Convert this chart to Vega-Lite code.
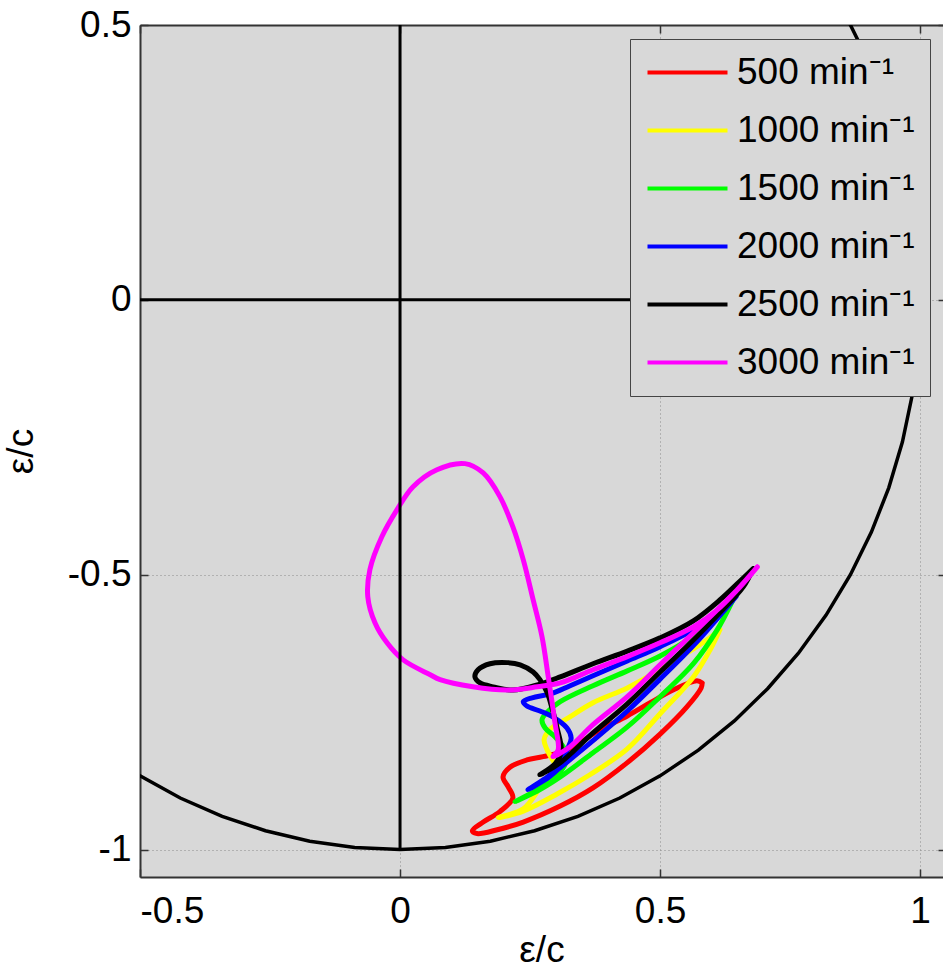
{
  "$schema": "https://vega.github.io/schema/vega-lite/v6.json",
  "width": 803,
  "height": 852,
  "autosize": {"type": "none"},
  "padding": {"left": 140, "top": 25, "right": 0, "bottom": 93},
  "background": "white",
  "config": {
    "font": "Liberation Sans",
    "view": {"fill": "#d8d8d8", "stroke": null},
    "axis": {
      "labelFont": "Liberation Sans",
      "labelFontSize": 37,
      "labelColor": "black",
      "titleFont": "Liberation Sans",
      "titleFontSize": 37,
      "titleFontWeight": "normal",
      "titleColor": "black",
      "domainColor": "#333",
      "domainWidth": 2,
      "tickColor": "#333",
      "tickWidth": 1.5,
      "tickSize": -8,
      "gridColor": "#8a8a8a",
      "gridDash": [1, 3],
      "gridWidth": 1
    }
  },
  "datasets": {
    "axes": [
      {"x1": -0.5, "x2": 1, "y1": 0, "y2": 0},
      {"x1": 0, "x2": 0, "y1": 0.5, "y2": -1}
    ],
    "circle": [
      {"a": 0, "x": 0.766, "y": 0.6428},
      {"a": 1, "x": 0.8192, "y": 0.5736},
      {"a": 2, "x": 0.866, "y": 0.5},
      {"a": 3, "x": 0.9063, "y": 0.4226},
      {"a": 4, "x": 0.9397, "y": 0.342},
      {"a": 5, "x": 0.9659, "y": 0.2588},
      {"a": 6, "x": 0.9848, "y": 0.1736},
      {"a": 7, "x": 0.9962, "y": 0.0872},
      {"a": 8, "x": 1, "y": 0},
      {"a": 9, "x": 0.9962, "y": -0.0872},
      {"a": 10, "x": 0.9848, "y": -0.1736},
      {"a": 11, "x": 0.9659, "y": -0.2588},
      {"a": 12, "x": 0.9397, "y": -0.342},
      {"a": 13, "x": 0.9063, "y": -0.4226},
      {"a": 14, "x": 0.866, "y": -0.5},
      {"a": 15, "x": 0.8192, "y": -0.5736},
      {"a": 16, "x": 0.766, "y": -0.6428},
      {"a": 17, "x": 0.7071, "y": -0.7071},
      {"a": 18, "x": 0.6428, "y": -0.766},
      {"a": 19, "x": 0.5736, "y": -0.8192},
      {"a": 20, "x": 0.5, "y": -0.866},
      {"a": 21, "x": 0.4226, "y": -0.9063},
      {"a": 22, "x": 0.342, "y": -0.9397},
      {"a": 23, "x": 0.2588, "y": -0.9659},
      {"a": 24, "x": 0.1736, "y": -0.9848},
      {"a": 25, "x": 0.0872, "y": -0.9962},
      {"a": 26, "x": 0, "y": -1},
      {"a": 27, "x": -0.0872, "y": -0.9962},
      {"a": 28, "x": -0.1736, "y": -0.9848},
      {"a": 29, "x": -0.2588, "y": -0.9659},
      {"a": 30, "x": -0.342, "y": -0.9397},
      {"a": 31, "x": -0.4226, "y": -0.9063},
      {"a": 32, "x": -0.5, "y": -0.866},
      {"a": 33, "x": -0.5736, "y": -0.8192},
      {"a": 34, "x": -0.6428, "y": -0.766}
    ],
    "curves": [
      {"speed": "500 min⁻¹", "i": 0, "x": 0.581, "y": -0.697},
      {"speed": "500 min⁻¹", "i": 1, "x": 0.571, "y": -0.693},
      {"speed": "500 min⁻¹", "i": 2, "x": 0.525, "y": -0.710},
      {"speed": "500 min⁻¹", "i": 3, "x": 0.481, "y": -0.733},
      {"speed": "500 min⁻¹", "i": 4, "x": 0.437, "y": -0.757},
      {"speed": "500 min⁻¹", "i": 5, "x": 0.385, "y": -0.782},
      {"speed": "500 min⁻¹", "i": 6, "x": 0.321, "y": -0.819},
      {"speed": "500 min⁻¹", "i": 7, "x": 0.275, "y": -0.831},
      {"speed": "500 min⁻¹", "i": 8, "x": 0.244, "y": -0.837},
      {"speed": "500 min⁻¹", "i": 9, "x": 0.212, "y": -0.850},
      {"speed": "500 min⁻¹", "i": 10, "x": 0.198, "y": -0.868},
      {"speed": "500 min⁻¹", "i": 11, "x": 0.208, "y": -0.886},
      {"speed": "500 min⁻¹", "i": 12, "x": 0.217, "y": -0.906},
      {"speed": "500 min⁻¹", "i": 13, "x": 0.192, "y": -0.931},
      {"speed": "500 min⁻¹", "i": 14, "x": 0.160, "y": -0.950},
      {"speed": "500 min⁻¹", "i": 15, "x": 0.139, "y": -0.966},
      {"speed": "500 min⁻¹", "i": 16, "x": 0.148, "y": -0.971},
      {"speed": "500 min⁻¹", "i": 17, "x": 0.187, "y": -0.964},
      {"speed": "500 min⁻¹", "i": 18, "x": 0.237, "y": -0.950},
      {"speed": "500 min⁻¹", "i": 19, "x": 0.308, "y": -0.921},
      {"speed": "500 min⁻¹", "i": 20, "x": 0.371, "y": -0.888},
      {"speed": "500 min⁻¹", "i": 21, "x": 0.437, "y": -0.842},
      {"speed": "500 min⁻¹", "i": 22, "x": 0.500, "y": -0.790},
      {"speed": "500 min⁻¹", "i": 23, "x": 0.552, "y": -0.740},
      {"speed": "500 min⁻¹", "i": 24, "x": 0.579, "y": -0.706},
      {"speed": "500 min⁻¹", "i": 25, "x": 0.581, "y": -0.697},

      {"speed": "1000 min⁻¹", "i": 0, "x": 0.615, "y": -0.600},
      {"speed": "1000 min⁻¹", "i": 1, "x": 0.590, "y": -0.619},
      {"speed": "1000 min⁻¹", "i": 2, "x": 0.552, "y": -0.642},
      {"speed": "1000 min⁻¹", "i": 3, "x": 0.500, "y": -0.673},
      {"speed": "1000 min⁻¹", "i": 4, "x": 0.437, "y": -0.706},
      {"speed": "1000 min⁻¹", "i": 5, "x": 0.371, "y": -0.733},
      {"speed": "1000 min⁻¹", "i": 6, "x": 0.321, "y": -0.762},
      {"speed": "1000 min⁻¹", "i": 7, "x": 0.290, "y": -0.780},
      {"speed": "1000 min⁻¹", "i": 8, "x": 0.277, "y": -0.800},
      {"speed": "1000 min⁻¹", "i": 9, "x": 0.283, "y": -0.819},
      {"speed": "1000 min⁻¹", "i": 10, "x": 0.292, "y": -0.835},
      {"speed": "1000 min⁻¹", "i": 11, "x": 0.300, "y": -0.851},
      {"speed": "1000 min⁻¹", "i": 12, "x": 0.269, "y": -0.888},
      {"speed": "1000 min⁻¹", "i": 13, "x": 0.237, "y": -0.926},
      {"speed": "1000 min⁻¹", "i": 14, "x": 0.189, "y": -0.942},
      {"speed": "1000 min⁻¹", "i": 15, "x": 0.237, "y": -0.930},
      {"speed": "1000 min⁻¹", "i": 16, "x": 0.302, "y": -0.899},
      {"speed": "1000 min⁻¹", "i": 17, "x": 0.365, "y": -0.864},
      {"speed": "1000 min⁻¹", "i": 18, "x": 0.437, "y": -0.817},
      {"speed": "1000 min⁻¹", "i": 19, "x": 0.500, "y": -0.753},
      {"speed": "1000 min⁻¹", "i": 20, "x": 0.564, "y": -0.686},
      {"speed": "1000 min⁻¹", "i": 21, "x": 0.596, "y": -0.637},
      {"speed": "1000 min⁻¹", "i": 22, "x": 0.615, "y": -0.600},

      {"speed": "1500 min⁻¹", "i": 0, "x": 0.639, "y": -0.548},
      {"speed": "1500 min⁻¹", "i": 1, "x": 0.596, "y": -0.582},
      {"speed": "1500 min⁻¹", "i": 2, "x": 0.552, "y": -0.619},
      {"speed": "1500 min⁻¹", "i": 3, "x": 0.500, "y": -0.648},
      {"speed": "1500 min⁻¹", "i": 4, "x": 0.437, "y": -0.675},
      {"speed": "1500 min⁻¹", "i": 5, "x": 0.371, "y": -0.702},
      {"speed": "1500 min⁻¹", "i": 6, "x": 0.308, "y": -0.731},
      {"speed": "1500 min⁻¹", "i": 7, "x": 0.283, "y": -0.750},
      {"speed": "1500 min⁻¹", "i": 8, "x": 0.273, "y": -0.764},
      {"speed": "1500 min⁻¹", "i": 9, "x": 0.279, "y": -0.779},
      {"speed": "1500 min⁻¹", "i": 10, "x": 0.298, "y": -0.795},
      {"speed": "1500 min⁻¹", "i": 11, "x": 0.317, "y": -0.819},
      {"speed": "1500 min⁻¹", "i": 12, "x": 0.317, "y": -0.846},
      {"speed": "1500 min⁻¹", "i": 13, "x": 0.279, "y": -0.882},
      {"speed": "1500 min⁻¹", "i": 14, "x": 0.221, "y": -0.913},
      {"speed": "1500 min⁻¹", "i": 15, "x": 0.269, "y": -0.891},
      {"speed": "1500 min⁻¹", "i": 16, "x": 0.308, "y": -0.868},
      {"speed": "1500 min⁻¹", "i": 17, "x": 0.371, "y": -0.824},
      {"speed": "1500 min⁻¹", "i": 18, "x": 0.437, "y": -0.777},
      {"speed": "1500 min⁻¹", "i": 19, "x": 0.500, "y": -0.722},
      {"speed": "1500 min⁻¹", "i": 20, "x": 0.564, "y": -0.662},
      {"speed": "1500 min⁻¹", "i": 21, "x": 0.610, "y": -0.600},
      {"speed": "1500 min⁻¹", "i": 22, "x": 0.639, "y": -0.548},

      {"speed": "2000 min⁻¹", "i": 0, "x": 0.646, "y": -0.540},
      {"speed": "2000 min⁻¹", "i": 1, "x": 0.608, "y": -0.569},
      {"speed": "2000 min⁻¹", "i": 2, "x": 0.564, "y": -0.600},
      {"speed": "2000 min⁻¹", "i": 3, "x": 0.500, "y": -0.631},
      {"speed": "2000 min⁻¹", "i": 4, "x": 0.437, "y": -0.657},
      {"speed": "2000 min⁻¹", "i": 5, "x": 0.371, "y": -0.684},
      {"speed": "2000 min⁻¹", "i": 6, "x": 0.327, "y": -0.702},
      {"speed": "2000 min⁻¹", "i": 7, "x": 0.289, "y": -0.717},
      {"speed": "2000 min⁻¹", "i": 8, "x": 0.254, "y": -0.724},
      {"speed": "2000 min⁻¹", "i": 9, "x": 0.237, "y": -0.731},
      {"speed": "2000 min⁻¹", "i": 10, "x": 0.244, "y": -0.739},
      {"speed": "2000 min⁻¹", "i": 11, "x": 0.269, "y": -0.748},
      {"speed": "2000 min⁻¹", "i": 12, "x": 0.296, "y": -0.760},
      {"speed": "2000 min⁻¹", "i": 13, "x": 0.321, "y": -0.779},
      {"speed": "2000 min⁻¹", "i": 14, "x": 0.329, "y": -0.797},
      {"speed": "2000 min⁻¹", "i": 15, "x": 0.323, "y": -0.815},
      {"speed": "2000 min⁻¹", "i": 16, "x": 0.308, "y": -0.846},
      {"speed": "2000 min⁻¹", "i": 17, "x": 0.279, "y": -0.871},
      {"speed": "2000 min⁻¹", "i": 18, "x": 0.246, "y": -0.891},
      {"speed": "2000 min⁻¹", "i": 19, "x": 0.279, "y": -0.873},
      {"speed": "2000 min⁻¹", "i": 20, "x": 0.308, "y": -0.851},
      {"speed": "2000 min⁻¹", "i": 21, "x": 0.371, "y": -0.802},
      {"speed": "2000 min⁻¹", "i": 22, "x": 0.437, "y": -0.748},
      {"speed": "2000 min⁻¹", "i": 23, "x": 0.500, "y": -0.690},
      {"speed": "2000 min⁻¹", "i": 24, "x": 0.564, "y": -0.629},
      {"speed": "2000 min⁻¹", "i": 25, "x": 0.608, "y": -0.582},
      {"speed": "2000 min⁻¹", "i": 26, "x": 0.646, "y": -0.540},

      {"speed": "2500 min⁻¹", "i": 0, "x": 0.679, "y": -0.489},
      {"speed": "2500 min⁻¹", "i": 1, "x": 0.660, "y": -0.506},
      {"speed": "2500 min⁻¹", "i": 2, "x": 0.615, "y": -0.546},
      {"speed": "2500 min⁻¹", "i": 3, "x": 0.564, "y": -0.584},
      {"speed": "2500 min⁻¹", "i": 4, "x": 0.500, "y": -0.615},
      {"speed": "2500 min⁻¹", "i": 5, "x": 0.437, "y": -0.639},
      {"speed": "2500 min⁻¹", "i": 6, "x": 0.371, "y": -0.662},
      {"speed": "2500 min⁻¹", "i": 7, "x": 0.308, "y": -0.686},
      {"speed": "2500 min⁻¹", "i": 8, "x": 0.269, "y": -0.699},
      {"speed": "2500 min⁻¹", "i": 9, "x": 0.217, "y": -0.710},
      {"speed": "2500 min⁻¹", "i": 10, "x": 0.179, "y": -0.704},
      {"speed": "2500 min⁻¹", "i": 11, "x": 0.154, "y": -0.697},
      {"speed": "2500 min⁻¹", "i": 12, "x": 0.144, "y": -0.686},
      {"speed": "2500 min⁻¹", "i": 13, "x": 0.150, "y": -0.673},
      {"speed": "2500 min⁻¹", "i": 14, "x": 0.173, "y": -0.662},
      {"speed": "2500 min⁻¹", "i": 15, "x": 0.206, "y": -0.660},
      {"speed": "2500 min⁻¹", "i": 16, "x": 0.231, "y": -0.664},
      {"speed": "2500 min⁻¹", "i": 17, "x": 0.256, "y": -0.677},
      {"speed": "2500 min⁻¹", "i": 18, "x": 0.269, "y": -0.691},
      {"speed": "2500 min⁻¹", "i": 19, "x": 0.283, "y": -0.715},
      {"speed": "2500 min⁻¹", "i": 20, "x": 0.292, "y": -0.742},
      {"speed": "2500 min⁻¹", "i": 21, "x": 0.302, "y": -0.779},
      {"speed": "2500 min⁻¹", "i": 22, "x": 0.310, "y": -0.822},
      {"speed": "2500 min⁻¹", "i": 23, "x": 0.298, "y": -0.844},
      {"speed": "2500 min⁻¹", "i": 24, "x": 0.269, "y": -0.864},
      {"speed": "2500 min⁻¹", "i": 25, "x": 0.308, "y": -0.842},
      {"speed": "2500 min⁻¹", "i": 26, "x": 0.371, "y": -0.788},
      {"speed": "2500 min⁻¹", "i": 27, "x": 0.437, "y": -0.735},
      {"speed": "2500 min⁻¹", "i": 28, "x": 0.500, "y": -0.677},
      {"speed": "2500 min⁻¹", "i": 29, "x": 0.564, "y": -0.619},
      {"speed": "2500 min⁻¹", "i": 30, "x": 0.615, "y": -0.569},
      {"speed": "2500 min⁻¹", "i": 31, "x": 0.660, "y": -0.522},
      {"speed": "2500 min⁻¹", "i": 32, "x": 0.679, "y": -0.489},

      {"speed": "3000 min⁻¹", "i": 0, "x": 0.687, "y": -0.486},
      {"speed": "3000 min⁻¹", "i": 1, "x": 0.648, "y": -0.528},
      {"speed": "3000 min⁻¹", "i": 2, "x": 0.610, "y": -0.564},
      {"speed": "3000 min⁻¹", "i": 3, "x": 0.564, "y": -0.595},
      {"speed": "3000 min⁻¹", "i": 4, "x": 0.500, "y": -0.624},
      {"speed": "3000 min⁻¹", "i": 5, "x": 0.437, "y": -0.649},
      {"speed": "3000 min⁻¹", "i": 6, "x": 0.371, "y": -0.673},
      {"speed": "3000 min⁻¹", "i": 7, "x": 0.308, "y": -0.697},
      {"speed": "3000 min⁻¹", "i": 8, "x": 0.264, "y": -0.704},
      {"speed": "3000 min⁻¹", "i": 9, "x": 0.206, "y": -0.710},
      {"speed": "3000 min⁻¹", "i": 10, "x": 0.140, "y": -0.704},
      {"speed": "3000 min⁻¹", "i": 11, "x": 0.077, "y": -0.691},
      {"speed": "3000 min⁻¹", "i": 12, "x": 0.058, "y": -0.682},
      {"speed": "3000 min⁻¹", "i": 13, "x": 0.006, "y": -0.655},
      {"speed": "3000 min⁻¹", "i": 14, "x": -0.025, "y": -0.624},
      {"speed": "3000 min⁻¹", "i": 15, "x": -0.048, "y": -0.588},
      {"speed": "3000 min⁻¹", "i": 16, "x": -0.062, "y": -0.540},
      {"speed": "3000 min⁻¹", "i": 17, "x": -0.058, "y": -0.491},
      {"speed": "3000 min⁻¹", "i": 18, "x": -0.035, "y": -0.431},
      {"speed": "3000 min⁻¹", "i": 19, "x": -0.006, "y": -0.382},
      {"speed": "3000 min⁻¹", "i": 20, "x": 0.025, "y": -0.340},
      {"speed": "3000 min⁻¹", "i": 21, "x": 0.071, "y": -0.309},
      {"speed": "3000 min⁻¹", "i": 22, "x": 0.125, "y": -0.298},
      {"speed": "3000 min⁻¹", "i": 23, "x": 0.160, "y": -0.315},
      {"speed": "3000 min⁻¹", "i": 24, "x": 0.192, "y": -0.358},
      {"speed": "3000 min⁻¹", "i": 25, "x": 0.217, "y": -0.413},
      {"speed": "3000 min⁻¹", "i": 26, "x": 0.237, "y": -0.473},
      {"speed": "3000 min⁻¹", "i": 27, "x": 0.256, "y": -0.546},
      {"speed": "3000 min⁻¹", "i": 28, "x": 0.273, "y": -0.613},
      {"speed": "3000 min⁻¹", "i": 29, "x": 0.285, "y": -0.686},
      {"speed": "3000 min⁻¹", "i": 30, "x": 0.298, "y": -0.770},
      {"speed": "3000 min⁻¹", "i": 31, "x": 0.304, "y": -0.819},
      {"speed": "3000 min⁻¹", "i": 32, "x": 0.294, "y": -0.831},
      {"speed": "3000 min⁻¹", "i": 33, "x": 0.327, "y": -0.813},
      {"speed": "3000 min⁻¹", "i": 34, "x": 0.371, "y": -0.773},
      {"speed": "3000 min⁻¹", "i": 35, "x": 0.437, "y": -0.722},
      {"speed": "3000 min⁻¹", "i": 36, "x": 0.500, "y": -0.664},
      {"speed": "3000 min⁻¹", "i": 37, "x": 0.564, "y": -0.606},
      {"speed": "3000 min⁻¹", "i": 38, "x": 0.615, "y": -0.559},
      {"speed": "3000 min⁻¹", "i": 39, "x": 0.654, "y": -0.522},
      {"speed": "3000 min⁻¹", "i": 40, "x": 0.687, "y": -0.486}
    ]
  },
  "layer": [
    {
      "data": {"name": "circle"},
      "mark": {"type": "line", "color": "black", "strokeWidth": 3.5, "clip": true},
      "encoding": {
        "x": {
          "field": "x", "type": "quantitative",
          "scale": {"domain": [-0.5, 1.044], "nice": false, "zero": false},
          "axis": {"orient": "top", "values": [-0.5, 0, 0.5, 1], "labels": false, "grid": false, "title": null, "domain": true}
        },
        "y": {
          "field": "y", "type": "quantitative",
          "scale": {"domain": [-1.05, 0.5], "nice": false, "zero": false},
          "axis": {"orient": "right", "values": [-1, -0.5, 0, 0.5], "labels": false, "grid": false, "title": null, "domain": false, "offset": 3}
        },
        "order": {"field": "a", "type": "quantitative"}
      }
    },
    {
      "data": {"name": "curves"},
      "mark": {"type": "line", "strokeWidth": 5, "strokeJoin": "round", "strokeCap": "round", "interpolate": "catmull-rom"},
      "encoding": {
        "x": {"field": "x", "type": "quantitative", "axis": null},
        "y": {"field": "y", "type": "quantitative", "axis": null},
        "color": {
          "field": "speed", "type": "nominal",
          "scale": {
            "domain": ["500 min⁻¹", "1000 min⁻¹", "1500 min⁻¹", "2000 min⁻¹", "2500 min⁻¹", "3000 min⁻¹"],
            "range": ["#ff0000", "#ffff00", "#00ff00", "#0000ff", "#000000", "#ff00ff"]
          },
          "legend": {
            "title": null,
            "orient": "none",
            "legendX": 490,
            "legendY": 14,
            "symbolType": "M-4,0H4",
            "symbolSize": 400,
            "symbolStrokeWidth": 4,
            "symbolOffset": 24,
            "labelFont": "Liberation Sans",
            "labelFontSize": 37,
            "labelColor": "black",
            "labelLimit": 400,
            "labelOffset": 31,
            "rowPadding": 20,
            "padding": 15,
            "fillColor": "#d8d8d8",
            "strokeColor": "#444",
            "cornerRadius": 0
          }
        },
        "order": {"field": "i", "type": "quantitative"}
      }
    },
    {
      "data": {"name": "axes"},
      "mark": {"type": "rule", "color": "black", "strokeWidth": 3},
      "encoding": {
        "x": {
          "field": "x1", "type": "quantitative",
          "axis": {"orient": "bottom", "values": [-0.5, 0, 0.5, 1], "labelExpr": "'' + datum.value", "grid": true, "title": "ε/c", "labelPadding": 24, "titlePadding": 3}
        },
        "x2": {"field": "x2"},
        "y": {
          "field": "y1", "type": "quantitative",
          "axis": {"orient": "left", "values": [-1, -0.5, 0, 0.5], "labelExpr": "'' + datum.value", "grid": true, "title": "ε/c", "labelPadding": 17, "titlePadding": 27}
        },
        "y2": {"field": "y2"}
      }
    }
  ],
  "resolve": {"axis": {"x": "independent", "y": "independent"}}
}
